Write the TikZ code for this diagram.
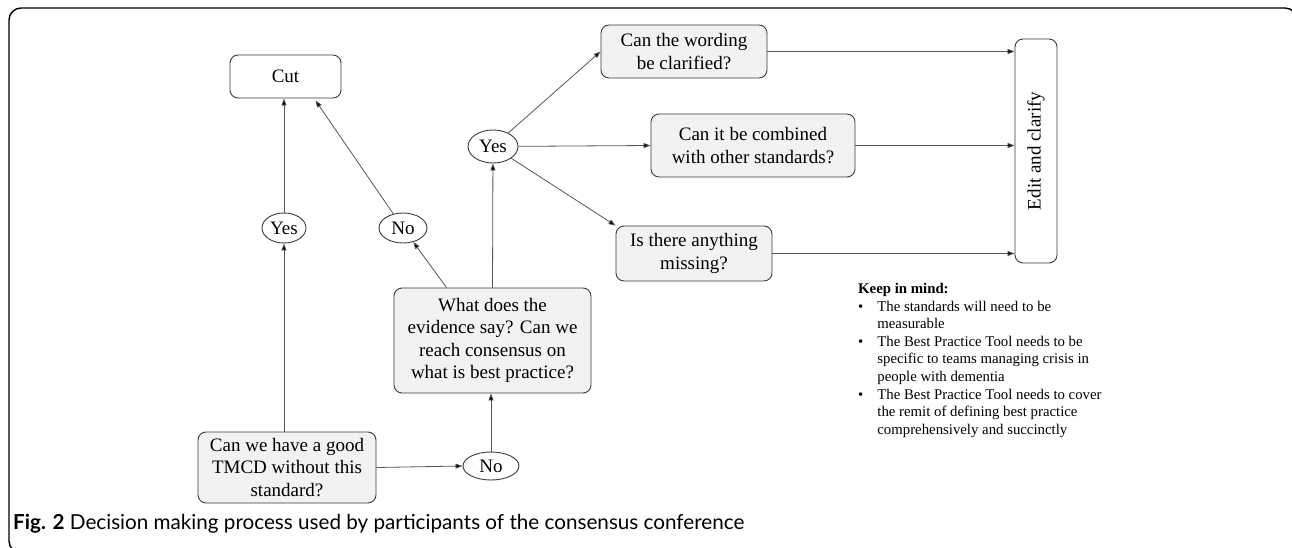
\documentclass[tikz,border=0pt]{standalone}
\usepackage{fontspec}
\setmainfont{Liberation Serif}
\newfontfamily\capfont{Lato}
\usetikzlibrary{arrows.meta,shapes.geometric,calc}
\definecolor{boxline}{HTML}{3A3A3A}
\definecolor{boxfill}{HTML}{F2F2F2}
\definecolor{lineclr}{HTML}{555555}
\newcommand{\mainsz}{\fontsize{19}{22.5}\selectfont}
\newcommand{\notesz}{\fontsize{14.8}{17.6}\selectfont}
\begin{document}
\begin{tikzpicture}[x=1pt,y=-1pt,
  box/.style={draw=boxline, rounded corners=8pt, line width=0.9pt, align=center, font=\mainsz, inner sep=0pt},
  qbox/.style={box, fill=boxfill},
  oval/.style={ellipse, draw=boxline, line width=0.9pt, font=\mainsz, inner sep=0pt},
  conn/.style={draw=lineclr, line width=0.8pt, -{Triangle[length=7pt,width=5pt,fill=black]}},
  plain/.style={draw=lineclr, line width=0.8pt}
]
\clip (0,0) rectangle (1292,548);
\draw[line width=1.4pt, rounded corners=12pt] (9,8) rectangle (1297,553);

% nodes
\node[box, minimum width=111, minimum height=43] (cut) at (285.5,76.5) {Cut};
\node[qbox, minimum width=166, minimum height=53] (wording) at (684,51.5) {Can the wording\\be clarified?};
\node[qbox, minimum width=204, minimum height=63] (combined) at (753,145.5) {Can it be combined\\with other standards?};
\node[qbox, minimum width=156, minimum height=55] (missing) at (694,253.5) {Is there anything\\missing?};
\node[box, rotate=90, minimum width=224, minimum height=42] (edit) at (1036,151) {Edit and clarify};
\node[qbox, minimum width=197, minimum height=105] (evidence) at (492.5,340.5) {What does the\\evidence say? Can we\\reach consensus on\\what is best practice?};
\node[qbox, minimum width=178, minimum height=71] (tmcd) at (287,467.5) {Can we have a good\\TMCD without this\\standard?};
\node[oval, minimum width=44, minimum height=30] (yes1) at (284,228) {Yes};
\node[oval, minimum width=48, minimum height=30] (no1) at (403,228) {No};
\node[oval, minimum width=50, minimum height=33] (yes2) at (493,146.5) {Yes};
\node[oval, minimum width=56, minimum height=28] (no2) at (491,466) {No};

% connectors
\draw[conn] (tmcd.north -| yes1) -- (yes1);
\draw[conn] (yes1) -- (yes1 |- cut.south);
\draw[conn] (tmcd.east) -- (no2.west);
\draw[conn] (no2) -- (no2 |- evidence.south);
\draw[conn] ([xshift=-46pt]evidence.north) -- (no1);
\draw[conn] (no1) -- ([xshift=30pt,yshift=-2pt]cut.south);
\draw[conn] (evidence.north) -- (yes2);
\draw[conn] (yes2) -- (wording.west);
\draw[conn] (yes2) -- (combined.west);
\draw[conn] (yes2) -- (missing.north west);
\draw[conn] (wording.east) -- (wording.east -| edit.north);
\draw[conn] (combined.east) -- (combined.east -| edit.north);
\draw[conn] (missing.east) -- (missing.east -| edit.north);

% note
\node[anchor=north west, inner sep=0pt, font=\notesz, align=left] (note) at (858,281) {%
\begin{tabular}{@{}l@{\hspace{14pt}}l@{}}
\multicolumn{2}{@{}l}{\textbf{Keep in mind:}}\\
\textbullet & The standards\ will need to be\\
 & measurable\\
\textbullet & The Best Practice\ Tool needs to be\\
 & specific to teams managing\ crisis in\\
 & people with dementia\\
\textbullet & The Best Practice\ Tool needs to cover\\
 & the remit of defining\ best practice\\
 & comprehensively\ and succinctly
\end{tabular}};

% caption
\node[anchor=base west, inner sep=0pt] (caption) at (13,529) {\resizebox{731pt}{!}{\capfont\fontsize{17}{20}\selectfont\textbf{Fig. 2} Decision making process used by participants of the consensus conference}};
\end{tikzpicture}
\end{document}
